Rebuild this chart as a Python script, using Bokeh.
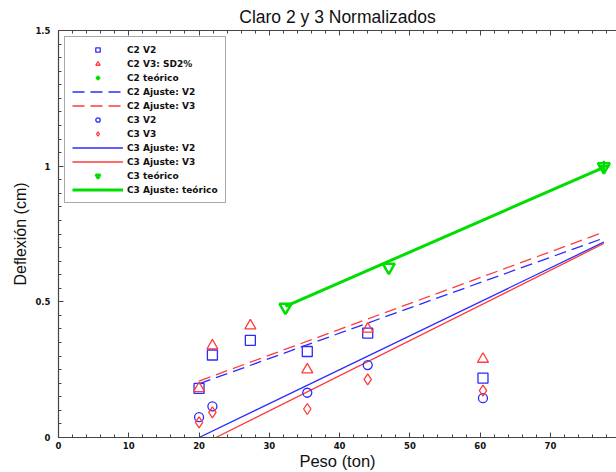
from bokeh.plotting import figure
from bokeh.models import Range1d, LinearAxis, Legend, LegendItem, FixedTicker
from bokeh.embed import file_html
from bokeh.resources import INLINE

# ---- data ----
x_c2 = [20.0, 21.9, 27.3, 35.4, 44.0, 60.4]
y_c2_v2 = [0.181, 0.304, 0.358, 0.317, 0.385, 0.219]
y_c2_v3 = [0.181, 0.338, 0.412, 0.250, 0.400, 0.289]

x_c3 = [20.0, 21.9, 35.4, 44.0, 60.4]
y_c3_v2 = [0.075, 0.115, 0.165, 0.267, 0.145]
y_c3_v3 = [0.056, 0.093, 0.105, 0.214, 0.173]

x_c2_teo = [77.6]
y_c2_teo = [1.0]
x_c3_teo = [32.3, 47.0, 77.6]
y_c3_teo = [0.48, 0.628, 0.998]

x_fit_c2_v2 = [20.0, 77.6]
y_fit_c2_v2 = [0.198, 0.735]
x_fit_c2_v3 = [20.0, 77.6]
y_fit_c2_v3 = [0.208, 0.757]
x_fit_c3_v2 = [20.0, 77.6]
y_fit_c3_v2 = [0.0, 0.72]
x_fit_c3_v3 = [22.4, 77.6]
y_fit_c3_v3 = [0.0, 0.715]
x_fit_c3_teo = [32.3, 77.6]
y_fit_c3_teo = [0.483, 0.996]

x_ticks = [0, 10, 20, 30, 40, 50, 60, 70, 80]
x_minor = [i * 2 for i in range(41)]
y_ticks = [0, 0.5, 1, 1.5]
y_tick_labels = ["0", "0.5", "1", "1.5"]
y_minor = [round(i * 0.05, 2) for i in range(31)]

title = "Claro 2 y 3 Normalizados"
x_label = "Peso (ton)"
y_label = "Deflexión (cm)"

BLUE = "#2b2bff"
RED = "#ff3b3b"
GREEN = "#00dd00"
TICK_FONT = "DejaVu Sans"

p = figure(width=616, height=472, x_range=Range1d(0, 79.4), y_range=Range1d(0, 1.5),
           output_backend="svg", toolbar_location=None,
           min_border_left=58, min_border_right=0, min_border_top=0, min_border_bottom=34)
p.title.text = title
p.title.align = "center"
p.title.text_font = "Liberation Sans"
p.title.text_font_size = "17.5px"
p.title.text_font_style = "normal"
p.title.text_color = "#111111"
p.title.standoff = 8
p.xgrid.visible = False
p.ygrid.visible = False
p.outline_line_color = None
p.background_fill_color = "white"
p.border_fill_color = "white"


def style_axis(ax, show_labels=True):
    ax.axis_line_color = "#444444"
    ax.axis_line_width = 1.2
    ax.major_tick_in = 5
    ax.major_tick_out = 0
    ax.minor_tick_in = 3
    ax.minor_tick_out = 0
    ax.major_tick_line_color = "#444444"
    ax.minor_tick_line_color = "#444444"
    ax.major_label_text_font = TICK_FONT
    ax.major_label_text_font_style = "bold"
    ax.major_label_text_color = "#111111"
    ax.major_label_text_font_size = "8.5px" if show_labels else "0px"
    ax.major_label_standoff = 4 if show_labels else 0


p.xaxis.ticker = FixedTicker(ticks=x_ticks, minor_ticks=x_minor)
p.yaxis.ticker = FixedTicker(ticks=y_ticks, minor_ticks=y_minor)
p.yaxis.major_label_overrides = {t: l for t, l in zip(y_ticks, y_tick_labels)}
style_axis(p.xaxis[0])
style_axis(p.yaxis[0])
p.yaxis.major_label_standoff = 8
p.xaxis.axis_label = x_label
p.yaxis.axis_label = y_label
for ax in (p.xaxis[0], p.yaxis[0]):
    ax.axis_label_text_font = "Liberation Sans"
    ax.axis_label_text_font_style = "normal"
    ax.axis_label_text_color = "#111111"
p.xaxis.axis_label_text_font_size = "16.5px"
p.yaxis.axis_label_text_font_size = "16px"
p.xaxis.axis_label_standoff = 0
p.yaxis.axis_label_standoff = 3

top = LinearAxis(ticker=FixedTicker(ticks=x_ticks, minor_ticks=x_minor))
style_axis(top, show_labels=False)
top.major_label_text_alpha = 0
p.add_layout(top, "above")

# ---- lines ----
l_c2v2 = p.line(x_fit_c2_v2, y_fit_c2_v2, line_color=BLUE, line_width=1.3, line_dash="12 6")
l_c2v3 = p.line(x_fit_c2_v3, y_fit_c2_v3, line_color=RED, line_width=1.3, line_dash="12 6")
l_c3v2 = p.line(x_fit_c3_v2, y_fit_c3_v2, line_color=BLUE, line_width=1.3)
l_c3v3 = p.line(x_fit_c3_v3, y_fit_c3_v3, line_color=RED, line_width=1.3)
l_teo = p.line(x_fit_c3_teo, y_fit_c3_teo, line_color=GREEN, line_width=3)

# ---- markers ----
m_c2v2 = p.scatter(x_c2, y_c2_v2, marker="square", size=10, fill_color=None,
                   line_color=BLUE, line_width=1.3)
m_c2v3 = p.scatter(x_c2, y_c2_v3, marker="triangle", size=11, fill_color=None,
                   line_color=RED, line_width=1.3)
m_c3v2 = p.scatter(x_c3, y_c3_v2, marker="circle", size=9, fill_color=None,
                   line_color=BLUE, line_width=1.3)
m_c3v3 = p.scatter(x_c3, y_c3_v3, marker="diamond", size=11, fill_color=None,
                   line_color=RED, line_width=1.3)
m_c3teo = p.scatter(x_c3_teo, y_c3_teo, marker="inverted_triangle", size=12, fill_color=None,
                    line_color=GREEN, line_width=2.5)
m_c2teo = p.scatter(x_c2_teo, y_c2_teo, marker="cross", size=11,
                    line_color=GREEN, line_width=2.5)

items = [
    LegendItem(label="C2 V2", renderers=[m_c2v2]),
    LegendItem(label="C2 V3: SD2%", renderers=[m_c2v3]),
    LegendItem(label="C2 teórico", renderers=[m_c2teo]),
    LegendItem(label="C2 Ajuste: V2", renderers=[l_c2v2]),
    LegendItem(label="C2 Ajuste: V3", renderers=[l_c2v3]),
    LegendItem(label="C3 V2", renderers=[m_c3v2]),
    LegendItem(label="C3 V3", renderers=[m_c3v3]),
    LegendItem(label="C3 Ajuste: V2", renderers=[l_c3v2]),
    LegendItem(label="C3 Ajuste: V3", renderers=[l_c3v3]),
    LegendItem(label="C3 teórico", renderers=[m_c3teo]),
    LegendItem(label="C3 Ajuste: teórico", renderers=[l_teo]),
]
legend = Legend(items=items, location="top_left", margin=6, padding=7,
                spacing=3, glyph_width=51, glyph_height=11, label_height=11,
                label_standoff=4, label_text_font=TICK_FONT,
                label_text_font_style="bold", label_text_font_size="9px",
                label_text_color="#111111",
                border_line_color="#555555", border_line_width=1.5,
                background_fill_alpha=1.0)
p.add_layout(legend, "center")

open("out.html", "w").write(file_html(p, INLINE))
